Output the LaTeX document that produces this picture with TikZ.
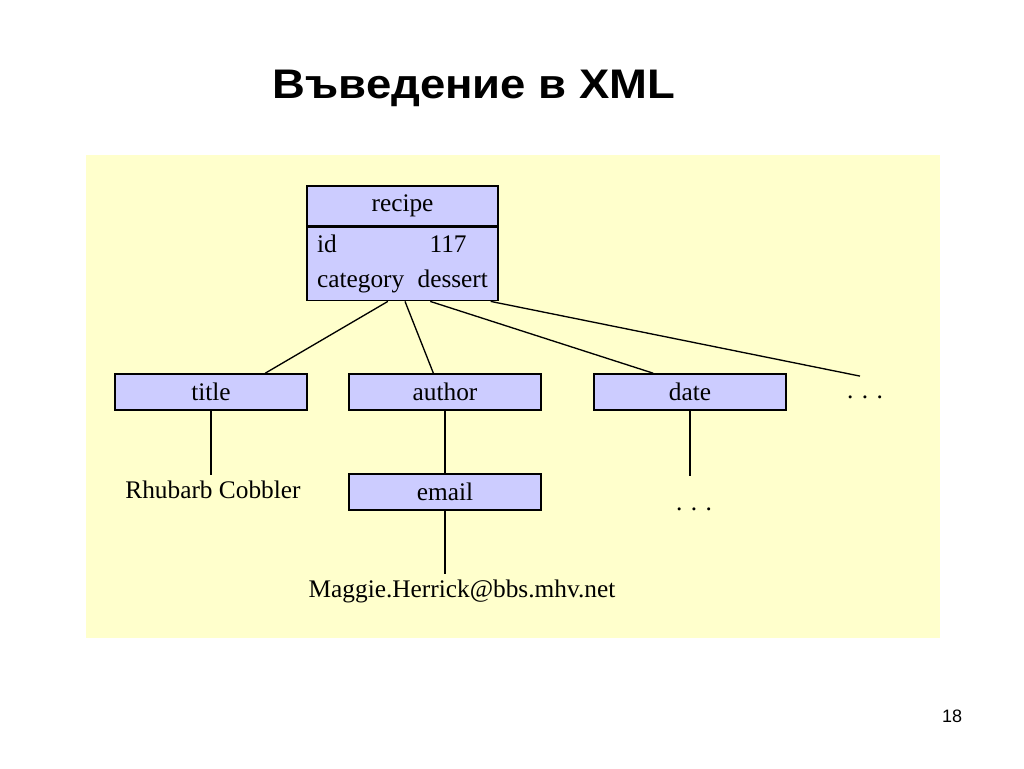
\documentclass[tikz,border=0pt]{standalone}
\usepackage{fontspec}
\setmainfont{Liberation Serif}
\newfontfamily\headfont[FakeStretch=1.1]{Liberation Sans}
\newfontfamily\numfont{Liberation Sans}
\usetikzlibrary{positioning,calc}
\definecolor{paleyellow}{RGB}{255,255,204}
\definecolor{boxblue}{RGB}{204,204,255}
\tikzstyle{link} = [line width=1pt]
\tikzstyle{xmlnode} = [rectangle, minimum width=144pt, minimum height=27pt, inner sep=0pt, text centered, draw=black, fill=boxblue, line width=1.2pt]
\tikzstyle{leaf} = [inner sep=0pt, anchor=base]

\begin{document}
\begin{tikzpicture}[x=0.75pt,y=-0.75pt,font=\fontsize{19}{22}\selectfont]
		\useasboundingbox (0,0) rectangle (1024,768);
		\fill[paleyellow] (86,155) rectangle (940,638);
		\node[font=\headfont\bfseries\fontsize{31}{36}\selectfont,anchor=base](heading) at (474,98){Въведение в XML};
		\node[font=\numfont\fontsize{13.5}{16}\selectfont](pagenum) at (952,716){18};
		% element boxes
		\node[xmlnode,minimum width=143.25pt,minimum height=30pt](recipe) at (402.5,206){recipe};
		\node[xmlnode,minimum width=143.25pt,minimum height=54.75pt,anchor=north](recipe_attr) at (recipe.south){\begin{tabular}{@{}l@{\hspace{10pt}}l@{}}id & \hspace{9pt}117\\[4pt] category & dessert\end{tabular}};
		\node[xmlnode](title) at (211,392){title};
		\node[xmlnode](author) at (445,392){author};
		\node[xmlnode](date) at (690,392){date};
		\node[xmlnode,on grid](email)[below of=author,node distance=75pt]{email};
		% text content
		\node[leaf](rhubarb) at (213,498){Rhubarb Cobbler};
		\node[leaf](mail) at (462,597){Maggie.Herrick@bbs.mhv.net};
		\node[leaf](date_more) at (694,510){. . .};
		\node[leaf](more) at (865,398){. . .};
		\path[link]
		($(recipe_attr.south west)!0.424!(recipe_attr.south east)$) edge ($(title.north west)!0.78!(title.north east)$)
		($(recipe_attr.south west)!0.513!(recipe_attr.south east)$) edge ($(author.north west)!0.44!(author.north east)$)
		($(recipe_attr.south west)!0.644!(recipe_attr.south east)$) edge ($(date.north west)!0.31!(date.north east)$)
		($(recipe_attr.south west)!0.958!(recipe_attr.south east)$) edge ($(more.north)+(-5,-19)$)
		(title.south) edge[shorten >=4pt] (title.south |- rhubarb.north)
		(author.south) edge (email.north)
		(email.south) edge[shorten >=4pt] (email.south |- mail.north)
		(date.south) edge[shorten >=23pt] (date.south |- date_more.north);
\end{tikzpicture}
\end{document}
